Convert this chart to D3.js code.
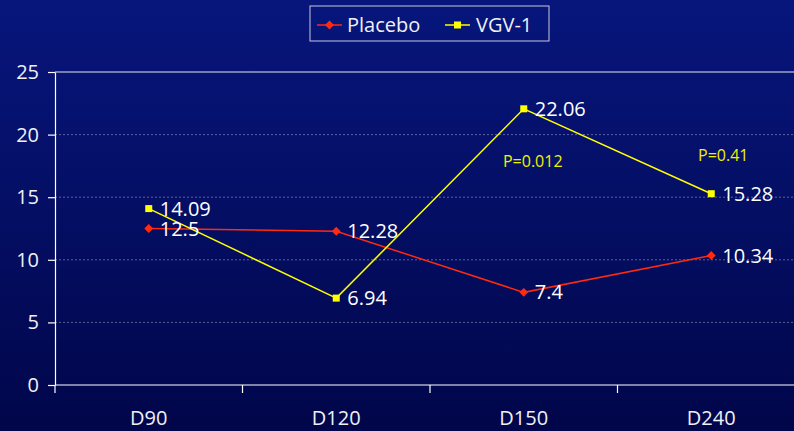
<!DOCTYPE html>
<html>
<head>
<meta charset="utf-8">
<script src="https://cdn.jsdelivr.net/npm/d3@7"></script>
<style>
  body { margin: 0; padding: 0; overflow: hidden; }
  svg { display: block; font-family: "Open Sans", "Noto Sans", sans-serif; }
</style>
</head>
<body>
<div id="vis"></div>
<script>
// data
const DAYS = ["D90", "D120", "D150", "D240"];
const PLACEBO = [12.5, 12.28, 7.4, 10.34];
const VGV1 = [14.09, 6.94, 22.06, 15.28];
const Y_TICKS = [0, 5, 10, 15, 20, 25];
const P_NOTES = [
  {day: "D150", value: 17.4, text: "P=0.012"},
  {day: "D240", value: 17.9, text: "P=0.41"}
];

const FRAME_WIDTH = 794;
const FRAME_HEIGHT = 431;
const MARGINS = {left: 55, right: -11, top: 72, bottom: 46};
const VIS_WIDTH = FRAME_WIDTH - MARGINS.left - MARGINS.right;
const VIS_HEIGHT = FRAME_HEIGHT - MARGINS.top - MARGINS.bottom;

const FRAME = d3.select("#vis")
                .append("svg")
                  .attr("width", FRAME_WIDTH)
                  .attr("height", FRAME_HEIGHT);

// background gradient
const defs = FRAME.append("defs");
const grad = defs.append("linearGradient")
                 .attr("id", "bg")
                 .attr("x1", 0).attr("y1", 0).attr("x2", 0).attr("y2", 1);
grad.append("stop").attr("offset", "0%").attr("stop-color", "#07167c");
grad.append("stop").attr("offset", "100%").attr("stop-color", "#01064a");

FRAME.append("rect")
     .attr("width", FRAME_WIDTH)
     .attr("height", FRAME_HEIGHT)
     .attr("fill", "url(#bg)");

// scales
const X_SCALE = d3.scaleBand()
                  .domain(DAYS)
                  .range([0, VIS_WIDTH]);
const Y_SCALE = d3.scaleLinear()
                  .domain([0, 25])
                  .range([VIS_HEIGHT, 0]);

const G = FRAME.append("g")
               .attr("transform", "translate(" + MARGINS.left + "," + MARGINS.top + ")");

// gridlines
G.selectAll(".grid")
  .data(Y_TICKS.filter(d => d > 0 && d < 25))
  .enter()
  .append("line")
    .attr("x1", 0)
    .attr("x2", VIS_WIDTH)
    .attr("y1", d => Y_SCALE(d))
    .attr("y2", d => Y_SCALE(d))
    .attr("stroke", "#6f78a8")
    .attr("stroke-width", 0.8)
    .attr("stroke-dasharray", "2,2");

// top border line
G.append("line")
  .attr("x1", 0).attr("x2", VIS_WIDTH)
  .attr("y1", Y_SCALE(25)).attr("y2", Y_SCALE(25))
  .attr("stroke", "#e8e8f0").attr("stroke-width", 1.2);

// y axis
const yAxis = G.append("g")
  .call(d3.axisLeft(Y_SCALE).tickValues(Y_TICKS).tickSize(7).tickPadding(9).tickSizeOuter(0));
yAxis.select(".domain").attr("stroke", "#ffffff").attr("stroke-width", 1.2);
yAxis.selectAll(".tick line").attr("stroke", "#ffffff").attr("stroke-width", 1.2);
yAxis.selectAll("text")
     .attr("fill", "#f0f0f4")
     .attr("font-size", "20px")
     .attr("font-family", "\"Open Sans\", sans-serif");

// x axis: ticks between categories
const xAxis = G.append("g")
  .attr("transform", "translate(0," + VIS_HEIGHT + ")");
xAxis.append("line")
  .attr("x1", 0).attr("x2", VIS_WIDTH)
  .attr("stroke", "#ffffff").attr("stroke-width", 1.2);
xAxis.selectAll(".xtick")
  .data(DAYS)
  .enter()
  .append("line")
    .attr("x1", d => X_SCALE(d))
    .attr("x2", d => X_SCALE(d))
    .attr("y1", 0).attr("y2", 8)
    .attr("stroke", "#ffffff").attr("stroke-width", 1.2);
xAxis.selectAll(".xlabel")
  .data(DAYS)
  .enter()
  .append("text")
    .attr("x", d => X_SCALE(d) + X_SCALE.bandwidth() / 2)
    .attr("y", 40)
    .attr("text-anchor", "middle")
    .attr("fill", "#f0f0f4")
    .attr("font-size", "20px")
    .text(d => d);

const xc = (d, i) => X_SCALE(DAYS[i]) + X_SCALE.bandwidth() / 2;

const line = d3.line()
               .x((d, i) => xc(d, i))
               .y(d => Y_SCALE(d));

// Placebo
G.append("path")
  .datum(PLACEBO)
  .attr("d", line)
  .attr("fill", "none")
  .attr("stroke", "#ff2a10")
  .attr("stroke-width", 1.5);
G.selectAll(".pmark")
  .data(PLACEBO)
  .enter()
  .append("path")
    .attr("d", d3.symbol().type(d3.symbolDiamond2).size(50))
    .attr("transform", (d, i) => "translate(" + xc(d, i) + "," + Y_SCALE(d) + ")")
    .attr("fill", "#ff2a10");

// VGV-1
G.append("path")
  .datum(VGV1)
  .attr("d", line)
  .attr("fill", "none")
  .attr("stroke", "#ffff00")
  .attr("stroke-width", 1.5);
G.selectAll(".vmark")
  .data(VGV1)
  .enter()
  .append("rect")
    .attr("x", (d, i) => xc(d, i) - 3.5)
    .attr("y", d => Y_SCALE(d) - 3.5)
    .attr("width", 7)
    .attr("height", 7)
    .attr("fill", "#ffff00");

// value labels
const labels = PLACEBO.map((v, i) => ({v: v, i: i}))
                 .concat(VGV1.map((v, i) => ({v: v, i: i})));
G.selectAll(".vlabel")
  .data(labels)
  .enter()
  .append("text")
    .attr("x", d => xc(d.v, d.i) + 11)
    .attr("y", d => Y_SCALE(d.v) + 7)
    .attr("fill", "#ffffff")
    .attr("font-size", "20px")
    .text(d => d.v);

// p-value notes
G.selectAll(".pnote")
  .data(P_NOTES)
  .enter()
  .append("text")
    .attr("x", (d, i) => X_SCALE(d.day) + X_SCALE.bandwidth() / 2 + (i === 0 ? 9 : 12))
    .attr("y", d => Y_SCALE(d.value))
    .attr("text-anchor", "middle")
    .attr("fill", "#f0f000")
    .attr("font-size", "16px")
    .text(d => d.text);

// legend
const LEG = FRAME.append("g").attr("transform", "translate(310,6)");
LEG.append("rect")
   .attr("width", 239).attr("height", 35)
   .attr("fill", "none")
   .attr("stroke", "#c8c8d8").attr("stroke-width", 1);
LEG.append("line")
   .attr("x1", 7).attr("x2", 32).attr("y1", 19).attr("y2", 19)
   .attr("stroke", "#ff2a10").attr("stroke-width", 1.5);
LEG.append("path")
   .attr("d", d3.symbol().type(d3.symbolDiamond2).size(50))
   .attr("transform", "translate(19.5,19)")
   .attr("fill", "#ff2a10");
LEG.append("text")
   .attr("x", 37).attr("y", 26)
   .attr("fill", "#f0f0f4").attr("font-size", "20px")
   .text("Placebo");
LEG.append("line")
   .attr("x1", 135).attr("x2", 160).attr("y1", 19).attr("y2", 19)
   .attr("stroke", "#ffff00").attr("stroke-width", 1.5);
LEG.append("rect")
   .attr("x", 144).attr("y", 15.5).attr("width", 7).attr("height", 7)
   .attr("fill", "#ffff00");
LEG.append("text")
   .attr("x", 166).attr("y", 26)
   .attr("fill", "#f0f0f4").attr("font-size", "20px")
   .text("VGV-1");
</script>
</body>
</html>
